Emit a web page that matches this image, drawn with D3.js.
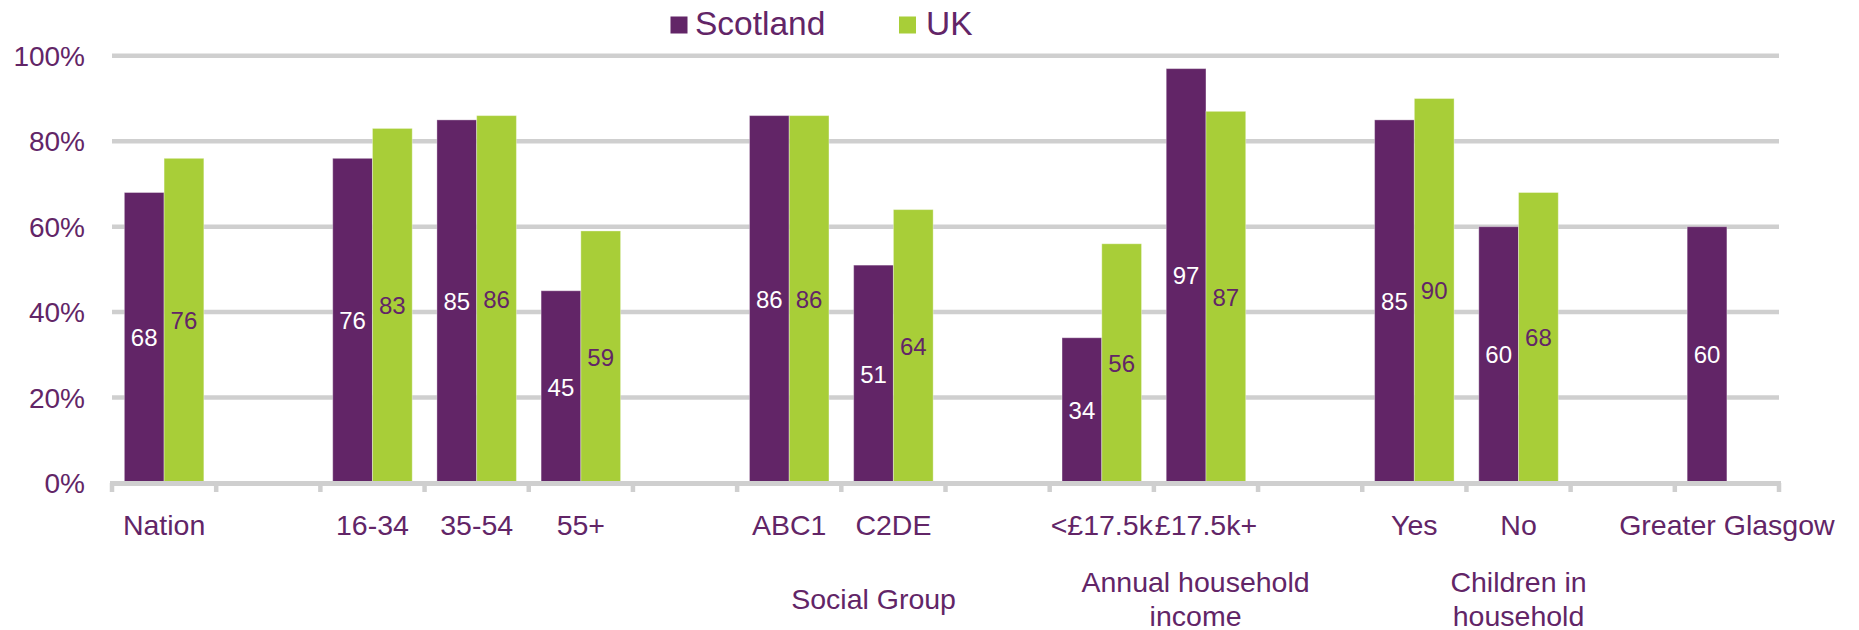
<!DOCTYPE html>
<html>
<head>
<meta charset="utf-8">
<script src="https://cdn.jsdelivr.net/npm/d3@7"></script>
<style>
  html, body { margin: 0; padding: 0; background: #ffffff; }
  svg { display: block; font-family: "Liberation Sans", Arial, Helvetica, sans-serif; }
</style>
</head>
<body>
<svg id="chart" width="1859" height="630"></svg>
<script>
// ---- data ----
const categories = ["Nation", "", "16-34", "35-54", "55+", "", "ABC1", "C2DE", "", "<£17.5k", "£17.5k+", "", "Yes", "No", "", "Greater Glasgow"];
const seriesNames = ["Scotland", "UK"];
const scotland = [68, null, 76, 85, 45, null, 86, 51, null, 34, 97, null, 85, 60, null, 60];
const uk       = [76, null, 83, 86, 59, null, 86, 64, null, 56, 87, null, 90, 68, null, null];
const yTicks = [0, 20, 40, 60, 80, 100];
const yTickLabels = ["0%", "20%", "40%", "60%", "80%", "100%"];
const groupLabels = [
  { lines: ["Social Group"], anchor: 7, offset: 0.31 },
  { lines: ["Annual household", "income"], anchor: 10, offset: 0.40 },
  { lines: ["Children in", "household"], anchor: 13, offset: 0.50 }
];

// ---- styles ----
const PURPLE = "#622567";
const GREEN = "#A8CE38";
const GRID = "#cfcfcf";
const colors = [PURPLE, GREEN];
const labelColors = ["#ffffff", PURPLE];

(function () {
const svg = d3.select("#chart");
const mLeft = 112, mRight = 1779, mTop = 55.8, mBottom = 483;

const x = d3.scaleBand().domain(d3.range(categories.length)).range([mLeft, mRight]).padding(0);
const bw = x.bandwidth();
const gw = bw * 0.763;
const x1 = d3.scaleBand().domain(seriesNames).range([(bw - gw) / 2, (bw + gw) / 2]).padding(0);
const y = d3.scaleLinear().domain([0, 100]).range([mBottom, mTop]);

// gridlines
svg.append("g").selectAll("line").data(yTicks.filter(d => d > 0)).join("line")
  .attr("x1", mLeft).attr("x2", mRight)
  .attr("y1", d => y(d)).attr("y2", d => y(d))
  .attr("stroke", GRID).attr("stroke-width", 4.5);

// y labels
svg.append("g").selectAll("text").data(yTicks).join("text")
  .attr("x", 85).attr("y", d => y(d)).attr("dy", "0.36em")
  .attr("text-anchor", "end").attr("font-size", 28).attr("fill", PURPLE)
  .text((d, i) => yTickLabels[i]);

// bars
const seriesData = [scotland, uk];
seriesNames.forEach((s, si) => {
  const vals = seriesData[si];
  svg.append("g").selectAll("rect").data(vals.map((v, i) => ({ v, i })).filter(d => d.v != null)).join("rect")
    .attr("x", d => x(d.i) + x1(s))
    .attr("width", x1.bandwidth())
    .attr("y", d => y(d.v))
    .attr("height", d => y(0) - y(d.v))
    .attr("fill", colors[si])
    .attr("stroke", "#ffffff").attr("stroke-opacity", 0.35).attr("stroke-width", 1);
});

// axis line and ticks
svg.append("line").attr("x1", mLeft - 2).attr("x2", mRight + 2)
  .attr("y1", mBottom + 0.5).attr("y2", mBottom + 0.5)
  .attr("stroke", GRID).attr("stroke-width", 5);
const tickPos = d3.range(categories.length + 1).map(i => mLeft + i * bw);
svg.append("g").selectAll("line").data(tickPos).join("line")
  .attr("x1", d => d).attr("x2", d => d)
  .attr("y1", mBottom).attr("y2", mBottom + 9)
  .attr("stroke", GRID).attr("stroke-width", 4.5);

// data labels
seriesNames.forEach((s, si) => {
  const vals = seriesData[si];
  svg.append("g").selectAll("text").data(vals.map((v, i) => ({ v, i })).filter(d => d.v != null)).join("text")
    .attr("x", d => x(d.i) + x1(s) + x1.bandwidth() / 2)
    .attr("y", d => y(d.v / 2)).attr("dy", "0.36em")
    .attr("text-anchor", "middle").attr("font-size", 24)
    .attr("fill", labelColors[si])
    .text(d => d.v);
});

// category labels
svg.append("g").selectAll("text").data(categories.map((c, i) => ({ c, i })).filter(d => d.c !== "")).join("text")
  .attr("x", d => x(d.i) + bw / 2).attr("y", 535)
  .attr("text-anchor", "middle").attr("font-size", 28.5).attr("fill", PURPLE)
  .text(d => d.c);

// group labels
groupLabels.forEach(gl => {
  const cx = x(gl.anchor) + gl.offset * bw;
  const baseY = gl.lines.length === 1 ? 609 : 591.5;
  const t = svg.append("text").attr("text-anchor", "middle").attr("font-size", 28.5).attr("fill", PURPLE);
  gl.lines.forEach((ln, li) => {
    t.append("tspan").attr("x", cx).attr("y", baseY + li * 34).text(ln);
  });
});

// legend
const legendItems = [{ name: seriesNames[0], x: 670.5, tx: 695 }, { name: seriesNames[1], x: 899, tx: 926 }];
legendItems.forEach((it, i) => {
  svg.append("rect").attr("x", it.x).attr("y", 16.5).attr("width", 17).attr("height", 17).attr("fill", colors[i]);
  svg.append("text").attr("x", it.tx).attr("y", 35).attr("font-size", 33.5).attr("fill", PURPLE).text(it.name);
});
})();
</script>
</body>
</html>
